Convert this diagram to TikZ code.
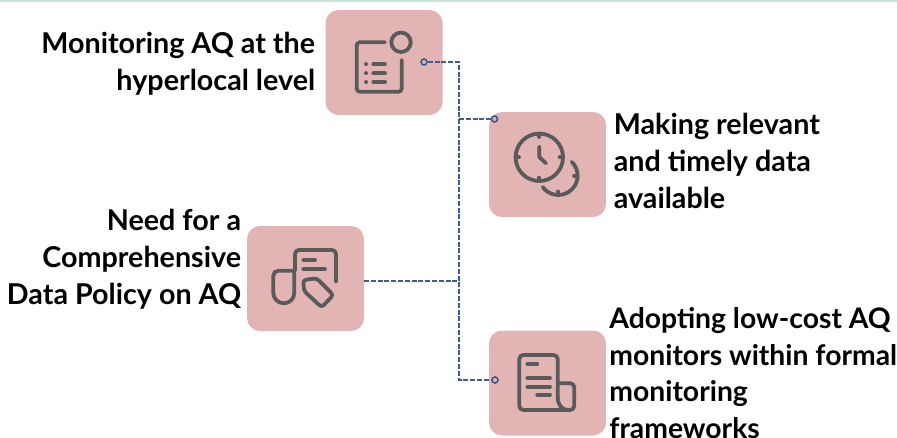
\documentclass[tikz,border=0pt]{standalone}
\usepackage{fontspec}
\setmainfont{Lato}
\usetikzlibrary{positioning}
\definecolor{tilepink}{HTML}{E2B4B4}
\definecolor{icongray}{HTML}{5A5A5A}
\definecolor{linkblue}{HTML}{3F5C8A}
\definecolor{topgreen}{HTML}{C8E2DA}
\tikzstyle{tile} = [rectangle, rounded corners=13pt, minimum width=117pt, minimum height=105pt, fill=tilepink, inner sep=0pt]
\tikzstyle{label} = [inner sep=0pt, font=\fontsize{28.7}{37}\selectfont\bfseries]
\tikzstyle{port} = [circle, minimum size=6pt, inner sep=0pt, draw=linkblue, line width=1.6pt, fill=tilepink]
\tikzstyle{link} = [linkblue, line width=2pt, dash pattern=on 5pt off 1.8pt]
\tikzstyle{icon} = [icongray, line width=3.8pt, line cap=round, line join=round]

\begin{document}
\begin{tikzpicture}[x=1pt, y=-1pt]
\useasboundingbox (0,0) rectangle (897,437);
\fill [topgreen] (0,0) rectangle (897,1.5);

\node (monitor) [tile] at (384,62.5) {};
\node (timely) [tile] at (547.5,164.5) {};
\node (policy) [tile] at (305.5,278.5) {};
\node (lowcost) [tile] at (547.5,383) {};

\node (monitortxt) [label, align=right, left=10pt of monitor, yshift=-1pt] {Monitoring AQ at the\\hyperlocal level};
\node (timelytxt) [label, align=left, right=7.5pt of timely, yshift=3.5pt] {Making relevant\\and timely data\\available};
\node (policytxt) [label, align=right, left=5.5pt of policy, yshift=19.5pt] {Need for a\\Comprehensive\\Data Policy on AQ};
\node (lowcosttxt) [label, font=\fontsize{28.3}{36.4}\selectfont\bfseries, align=left, right=3pt of lowcost, yshift=10pt] {Adopting low-cost AQ\\monitors within formal\\monitoring\\frameworks};

\coordinate (top) at (459,62);
\coordinate (mid) at (459,119);
\coordinate (joint) at (459,281);
\coordinate (bottom) at (459,380);
\coordinate (policyout) at (364,281);
\node (monitorport) [port] at (424,62) {};
\node (timelyport) [port] at (494.5,119) {};
\node (lowcostport) [port] at (495,380) {};

\draw [link] (monitorport) -- (top) -- (bottom) -- (lowcostport);
\draw [link] (mid) -- (timelyport);
\draw [link] (policyout) -- (joint);

% list icon
\draw [icon, rounded corners=3pt] (385,42.3) -- (356.7,42.3) -- (356.7,91.7) -- (401.7,91.7) -- (401.7,60);
\draw [icon] (401,42.3) circle (9.7);
\foreach \y in {64.3,73.3,82} {
  \draw [icon] (366,\y) -- (366.1,\y);
  \draw [icon] (373.3,\y) -- (385,\y);
}

% clock icon
\draw [icon] (539.3,157.3) circle (23.7);
\draw [icon] (539.3,146.7) -- (539.3,157) -- (546,163.3);
\draw [icon] (539.3,133.6) -- (539.3,137);
\draw [icon] (539.3,181) -- (539.3,177.6);
\draw [icon] (515.6,157.3) -- (519,157.3);
\draw [icon] (563,157.3) -- (559.6,157.3);
\draw [icon] (558.3,175.7) ++(-46:19.3) arc (-46:144:19.3);
\draw [icon] (577.6,175.7) -- (574,175.7);
\draw [icon] (558.3,195) -- (558.3,191.4);

% tagged page icon
\draw [icon, rounded corners=4pt] (295,270) -- (295,250) -- (336,250) -- (336,281.7);
\draw [icon] (303.3,260) -- (315,260);
\draw [icon] (303.3,269.3) -- (325,269.3);
\draw [icon, rounded corners=5pt] (295,270.7) -- (273.3,270.7) -- (273.3,293);
\draw [icon] (273.3,292.8) arc (180:0:10.5) -- (294.3,271);
\draw [icon, rounded corners=3pt] (303.3,280) -- (316.7,278.3) -- (333.3,295) -- (321.7,307.3) -- (304,291) -- cycle;

% scroll icon
\draw [icon, rounded corners=4pt] (557.7,397) -- (557.7,355) -- (519.3,355) -- (519.3,410) -- (574.3,410) -- (574.3,383.3) -- (558,383.3);
\draw [icon] (557.7,397) .. controls (557.7,405) and (562,410) .. (568,410);
\draw [icon] (527.3,364) -- (537.3,364);
\draw [icon] (527.3,378.3) -- (550,378.3);
\draw [icon] (527.3,386.7) -- (550,386.7);
\draw [icon] (537.3,394.7) -- (550,394.7);

\end{tikzpicture}
\end{document}
